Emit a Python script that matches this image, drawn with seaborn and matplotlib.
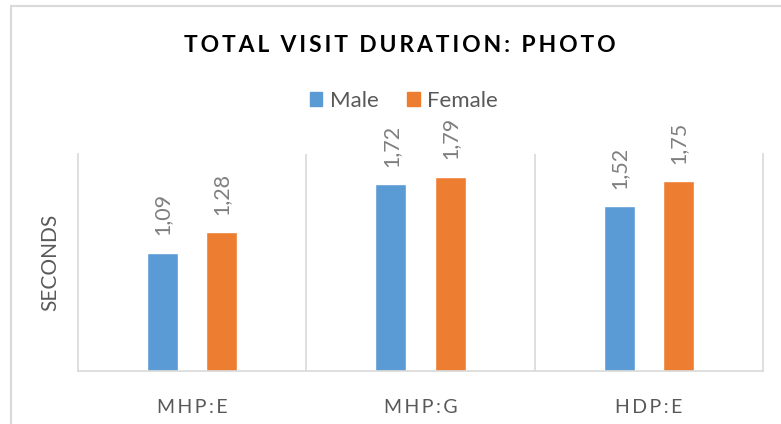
import matplotlib
matplotlib.use("Agg")
import matplotlib.pyplot as plt
import seaborn as sns
import pandas as pd
from matplotlib.patches import Rectangle

categories = ["MHP:E", "MHP:G", "HDP:E"]
series_names = ["Male", "Female"]
male_values = [1.09, 1.72, 1.52]
female_values = [1.28, 1.79, 1.75]
title_text = "TOTAL VISIT DURATION: PHOTO"
y_label = "SECONDS"

colors = {"Male": "#5B9BD5", "Female": "#ED7D31"}

df = pd.DataFrame({
    "category": categories * 2,
    "series": ["Male"] * len(categories) + ["Female"] * len(categories),
    "value": male_values + female_values,
})

sns.set_style("white")
plt.rcParams["font.family"] = ["Lato", "DejaVu Sans"]

W, H = 781, 424
fig = plt.figure(figsize=(W / 100, H / 100), dpi=100)
ax = fig.add_axes([78 / W, 1 - 371 / H, (763 - 78) / W, (371 - 154) / H])

sns.barplot(data=df, x="category", y="value", hue="series", order=categories,
            hue_order=series_names, palette=colors, width=0.517, gap=0.475,
            ax=ax, legend=False, saturation=1, errorbar=None)

def spaced(s, sep="\u2009"):
    return sep.join(list(s))

for cont in ax.containers:
    ax.bar_label(cont, labels=[f"{v:.2f}".replace(".", ",") for v in cont.datavalues],
                 rotation=90, padding=12.5, color="#7F7F7F", fontsize=15.5)

ax.set_ylim(0, 2.0)
ax.set_xlim(-0.5, 2.5)
ax.set_yticks([])
ax.set_xticks(range(len(categories)))
ax.set_xticklabels([spaced(c) for c in categories], color="#595959", fontsize=14)
ax.tick_params(axis="x", length=0, pad=20)
ax.set_xlabel("")
ax.set_ylabel(y_label, color="#595959", fontsize=15)
ax.yaxis.set_label_coords(-0.026, 0.5)

ax.spines["top"].set_visible(False)
for side in ["left", "right", "bottom"]:
    ax.spines[side].set_color("#D9D9D9")
    ax.spines[side].set_linewidth(1.2)
for xb in [0.5, 1.5]:
    ax.axvline(xb, color="#D9D9D9", linewidth=1.2, zorder=0)

handles = [Rectangle((0, 0), 1, 1, color=colors[s]) for s in series_names]
fig.legend(handles, series_names, loc="center", bbox_to_anchor=(404 / W, 1 - 101 / H),
           ncol=2, frameon=False, fontsize=16, handlelength=0.55, handleheight=0.55,
           handletextpad=0.35, columnspacing=1.3, labelcolor="#595959")

fig.text(400 / W, 1 - 46 / H, spaced(title_text), ha="center", va="center",
         fontsize=16.5, fontweight="bold", color="#000000")

fig.patches.append(Rectangle((11 / W, -0.1), 1.2, 1 - 6 / H + 0.1, transform=fig.transFigure,
                             fill=False, edgecolor="#D9D9D9", linewidth=1.5, zorder=-1))

fig.savefig("out.png", dpi=100, facecolor="white")
